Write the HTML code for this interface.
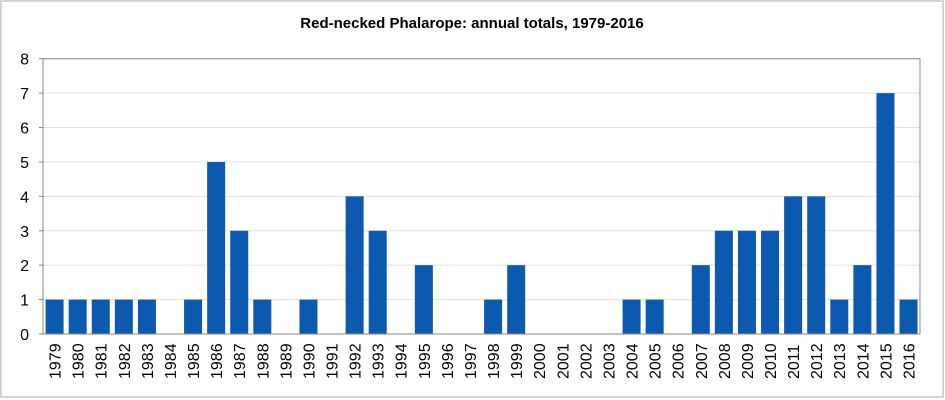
<!DOCTYPE html>
<html><head><meta charset="utf-8"><style>
body{margin:0;background:#fff}
svg{display:block}
</style></head><body>
<svg width="945" height="400" xmlns="http://www.w3.org/2000/svg" font-family="Liberation Sans, Arial, sans-serif">
<rect x="1" y="1" width="942" height="396" fill="#fff" stroke="#d4d4d4" stroke-width="2"/>
<text x="472" y="28" text-anchor="middle" font-size="15" font-weight="bold" fill="#000">Red-necked Phalarope: annual totals, 1979-2016</text>
<g id="g"></g>
</svg>
<script>
const d=[1,1,1,1,1,0,1,5,3,1,0,1,0,4,3,0,2,0,0,1,2,0,0,0,0,1,1,0,2,3,3,3,4,4,1,2,7,1];
const L=43,R=920,T=58.7,B=334,u=(B-T)/8,s=(R-L)/38;
let h='';
for(let i=1;i<=8;i++){const y=B-i*u;h+=`<line x1="${L}" x2="${R}" y1="${y}" y2="${y}" stroke="#e0e0e0" stroke-width="1"/>`;}
for(let i=0;i<=8;i++){const y=B-i*u;h+=`<text x="29" y="${y+6}" text-anchor="end" font-size="16" fill="#000">${i}</text><line x1="${L-4}" x2="${L}" y1="${y}" y2="${y}" stroke="#888"/>`;}
d.forEach((v,i)=>{const x=L+i*s+2.6;if(v)h+=`<rect x="${x}" y="${B-v*u}" width="18" height="${v*u}" fill="#0b5ab0"/>`;
const cx=L+i*s+s/2+6;h+=`<text transform="translate(${cx},379) rotate(-90)" font-size="16" fill="#000">${1979+i}</text>`;});
h+=`<line x1="${L}" x2="${L}" y1="${T}" y2="${B}" stroke="#888"/><line x1="${L}" x2="${R}" y1="${B}" y2="${B}" stroke="#888"/><line x1="${L}" x2="${R}" y1="${T}" y2="${T}" stroke="#888"/><line x1="${R}" x2="${R}" y1="${T}" y2="${B}" stroke="#888"/>`;
document.getElementById('g').innerHTML=h;
</script>
</body></html>
